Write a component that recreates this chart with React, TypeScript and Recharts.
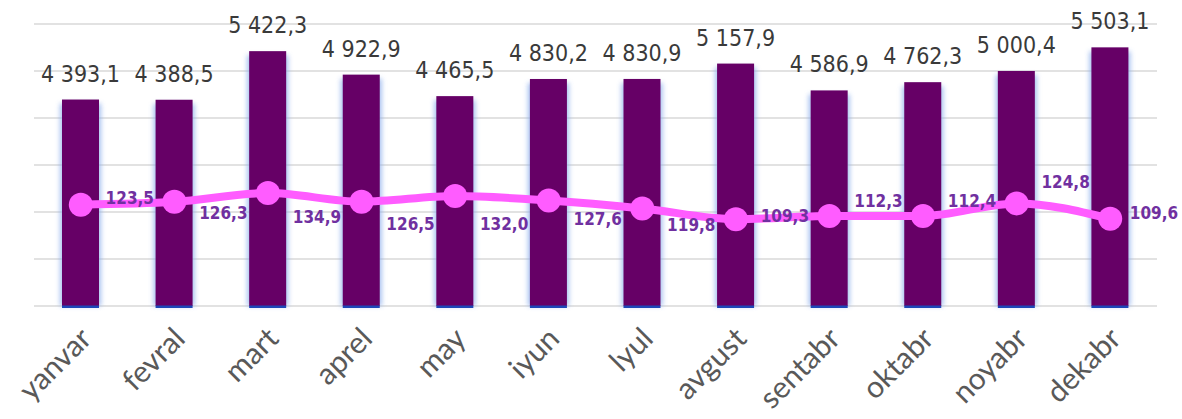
import React from 'react'
import { ComposedChart, Bar, Line, XAxis, YAxis, CartesianGrid, LabelList } from 'recharts'

const months = ['yanvar', 'fevral', 'mart', 'aprel', 'may', 'iyun', 'lyul', 'avgust', 'sentabr', 'oktabr', 'noyabr', 'dekabr']
const volume = [4393.1, 4388.5, 5422.3, 4922.9, 4465.5, 4830.2, 4830.9, 5157.9, 4586.9, 4762.3, 5000.4, 5503.1]
const growth = [123.5, 126.3, 134.9, 126.5, 132.0, 127.6, 119.8, 109.3, 112.3, 112.4, 124.8, 109.6]
const volumeTicks = [0, 1000, 2000, 3000, 4000, 5000, 6000]

// hand-placed label offsets for the line labels (as in the original)
const growthLabelDy = [-7, 11, 24, 22, 28, 18, 17, -3, -15, -15, -21, -6]

const data = months.map((m, i) => ({ month: m, volume: volume[i], growth: growth[i] }))

const condensed = '"DejaVu Sans Condensed", "DejaVu Sans", sans-serif'

function fmt(v: number) {
  const [int, dec] = v.toFixed(1).split('.')
  return int.replace(/\B(?=(\d{3})+(?!\d))/g, ' ') + ',' + dec
}

function GlowBar(props: any) {
  const { x, y, width, height } = props
  return (
    <g>
      <defs>
        <filter id="barGlow" x="-50%" y="-10%" width="200%" height="120%">
          <feGaussianBlur stdDeviation="2.5" />
        </filter>
      </defs>
      <rect x={x - 2} y={y + 4} width={width + 4} height={height - 4} fill="#8fb0ec" opacity={0.8} filter="url(#barGlow)" />
      <rect x={x} y={y} width={width} height={height} fill="#660066" />
      <rect x={x} y={y + height - 0.5} width={width} height={2.5} fill="#1d47b8" />
    </g>
  )
}

function MonthTick(props: any) {
  const { x, y, payload } = props
  const tx = x + 4
  const ty = y + 18
  return (
    <text
      x={tx}
      y={ty}
      transform={`rotate(-45, ${tx}, ${ty})`}
      textAnchor="end"
      dominantBaseline="central"
      fill="#595959"
      fontSize={30}
      fontFamily="Lato, sans-serif"
    >
      {payload.value}
    </text>
  )
}

function VolumeLabel(props: any) {
  const { x, y, width, value } = props
  return (
    <text x={x + width / 2} y={y - 18} textAnchor="middle" fill="#3a3a3a" fontSize={23} fontFamily={condensed} style={{ fontStretch: 'condensed' }}>
      {fmt(value)}
    </text>
  )
}

function GrowthLabel(props: any) {
  const { x, y, value, index } = props
  return (
    <text x={Math.min(x + 49, 1154)} y={y + growthLabelDy[index]} textAnchor="middle" dominantBaseline="central" fill="#7030a0" fontSize={17} fontWeight="bold" fontFamily={condensed} style={{ fontStretch: 'condensed' }}>
      {fmt(value)}
    </text>
  )
}

export default function App() {
  return (
    <div style={{ position: 'absolute', left: 0, top: 0, background: '#fff' }}>
      <ComposedChart width={1182} height={419} data={data} margin={{ top: 24, right: 25, bottom: 0, left: 34 }}>
        <CartesianGrid yAxisId="left" vertical={false} stroke="#d9d9d9" strokeWidth={1.5} />
        <XAxis dataKey="month" axisLine={false} tickLine={false} height={113} interval={0} tick={<MonthTick />} />
        <YAxis yAxisId="left" hide domain={[0, 6000]} ticks={volumeTicks} />
        <YAxis yAxisId="right" hide orientation="right" domain={[24, 301]} />
        <Bar yAxisId="left" dataKey="volume" barSize={37} shape={<GlowBar />} isAnimationActive={false}>
          <LabelList dataKey="volume" content={<VolumeLabel />} />
        </Bar>
        <Line
          yAxisId="right"
          type="monotone"
          dataKey="growth"
          stroke="#ff5cff"
          strokeWidth={8}
          dot={{ r: 12, fill: '#ff5cff', stroke: 'none' }}
          isAnimationActive={false}
        >
          <LabelList dataKey="growth" content={<GrowthLabel />} />
        </Line>
      </ComposedChart>
    </div>
  )
}
